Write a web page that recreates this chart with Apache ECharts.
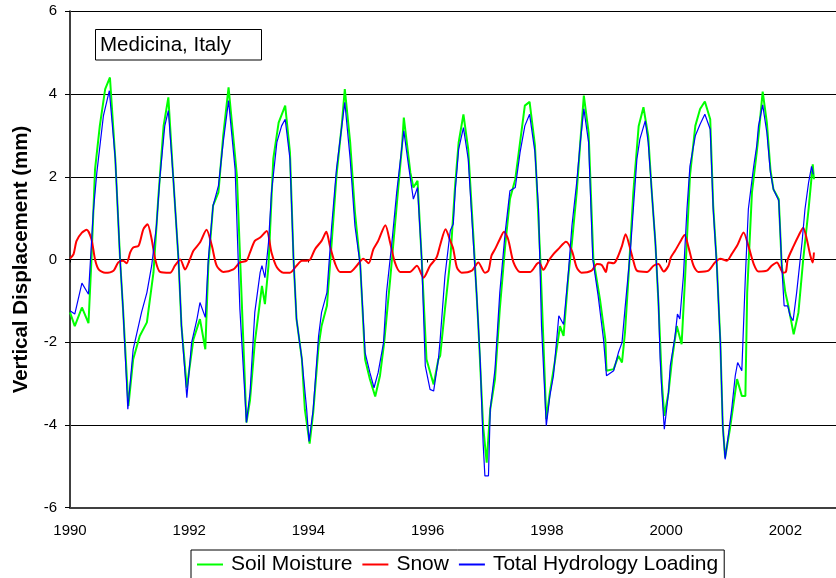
<!DOCTYPE html>
<html>
<head>
<meta charset="utf-8">
<script src="https://cdn.jsdelivr.net/npm/echarts/dist/echarts.min.js"></script>
<style>
  html, body { margin: 0; padding: 0; background: #fff; }
  #chart { width: 836px; height: 578px; }
</style>
</head>
<body>
<div id="chart"></div>
<script>
// Vertical displacement at Medicina (mm), decimal-year time stamps per series
const soilYears = [
  1990.00,1990.08,1990.20,1990.31,1990.36,1990.42,1990.50,1990.59,1990.67,1990.76,1990.84,1990.89,1990.98,
  1991.06,1991.17,1991.29,1991.40,1991.48,1991.57,1991.65,1991.73,1991.82,1991.87,1991.96,
  1992.07,1992.18,1992.27,1992.32,1992.40,1992.49,1992.57,1992.66,1992.80,1992.88,1992.96,
  1993.02,1993.10,1993.22,1993.27,1993.33,1993.41,1993.50,1993.61,1993.69,1993.75,1993.80,1993.89,1993.94,
  1994.02,1994.08,1994.17,1994.22,1994.31,1994.39,1994.47,1994.56,1994.61,1994.70,1994.78,1994.87,1994.95,
  1995.03,1995.12,1995.20,1995.27,1995.37,1995.48,1995.57,1995.60,1995.71,1995.76,1995.83,1995.90,1995.98,
  1996.10,1996.18,1996.21,1996.29,1996.38,1996.46,1996.52,1996.60,1996.68,1996.77,1996.85,1996.93,1996.99,
  1997.05,1997.13,1997.21,1997.30,1997.38,1997.47,1997.55,1997.63,1997.71,1997.80,1997.89,1997.99,
  1998.05,1998.14,1998.22,1998.28,1998.36,1998.42,1998.50,1998.56,1998.62,1998.70,1998.78,1998.89,1998.98,
  1999.00,1999.12,1999.20,1999.26,1999.31,1999.37,1999.45,1999.54,1999.62,1999.70,1999.76,1999.82,1999.87,1999.93,1999.97,
  2000.04,2000.10,2000.18,2000.26,2000.32,2000.40,2000.49,2000.57,2000.65,2000.74,2000.79,2000.85,2000.91,2000.95,2000.99,
  2001.07,2001.19,2001.27,2001.33,2001.36,2001.44,2001.52,2001.55,2001.62,2001.69,2001.75,2001.80,2001.89,2001.94,
  2002.00,2002.05,2002.14,2002.22,2002.30,2002.39,2002.46,2002.48
];
const soilValues = [
  -1.28,-1.61,-1.16,-1.54,0.00,2.18,3.23,4.12,4.40,2.43,0.00,-1.20,-3.54,
  -2.41,-1.85,-1.52,-0.32,1.46,3.23,3.92,2.02,0.00,-1.61,-3.10,
  -1.93,-1.44,-2.17,-0.16,1.30,1.62,2.99,4.16,2.02,-0.96,-3.94,
  -3.40,-2.01,-0.64,-1.08,-0.15,2.43,3.31,3.72,2.59,0.00,-1.44,-2.41,-3.62,
  -4.45,-3.70,-2.09,-1.61,-1.12,0.41,2.02,3.27,4.12,2.83,1.14,-0.15,-2.41,
  -2.89,-3.31,-2.81,-2.01,-0.50,1.30,2.75,3.43,2.10,1.74,1.90,0.00,-2.41,
  -3.02,-2.41,-2.33,-1.20,0.00,1.78,2.83,3.51,2.67,0.49,-1.60,-4.02,-4.91,
  -3.62,-2.89,-1.20,0.33,1.46,1.94,2.83,3.72,3.81,2.75,0.00,-3.86,
  -3.22,-2.41,-1.61,-1.85,-0.40,0.41,1.62,2.83,3.96,3.07,0.00,-0.96,-1.93,
  -2.69,-2.65,-2.33,-2.49,-1.77,-0.40,1.62,3.23,3.68,2.99,1.62,0.41,-1.00,-3.00,-3.78,
  -3.22,-2.41,-1.61,-2.05,-0.40,2.02,3.23,3.64,3.82,3.39,1.30,-0.10,-2.00,-4.00,-4.79,
  -4.10,-2.89,-3.30,-3.30,-0.80,1.62,2.59,2.99,4.06,3.31,2.18,1.70,1.46,-0.15,
  -0.80,-1.12,-1.81,-1.28,0.00,1.22,2.30,1.94
];

const snowYears = [
  1990.00,1990.06,1990.11,1990.20,1990.28,1990.36,1990.42,1990.48,1990.59,1990.73,1990.81,1990.89,1990.95,
  1991.01,1991.06,1991.15,1991.23,1991.30,1991.37,1991.43,1991.51,1991.68,1991.76,1991.85,1991.93,
  1992.01,1992.07,1992.18,1992.29,1992.38,1992.46,1992.57,1992.74,1992.85,1992.96,
  1993.02,1993.10,1993.19,1993.30,1993.38,1993.47,1993.58,1993.69,1993.80,1993.89,1993.97,
  1994.03,1994.11,1994.22,1994.30,1994.36,1994.45,1994.53,1994.70,1994.81,1994.92,
  1995.01,1995.09,1995.17,1995.29,1995.37,1995.45,1995.54,1995.70,1995.82,1995.93,
  1996.04,1996.15,1996.21,1996.30,1996.38,1996.43,1996.49,1996.57,1996.74,1996.85,1996.96,
  1997.02,1997.07,1997.13,1997.21,1997.28,1997.35,1997.44,1997.55,1997.72,1997.83,1997.87,1997.94,
  1998.03,1998.11,1998.19,1998.32,1998.42,1998.50,1998.58,1998.75,1998.84,1998.92,1998.99,
  1999.03,1999.12,1999.17,1999.26,1999.32,1999.40,1999.45,1999.51,1999.68,1999.79,1999.87,1999.96,
  2000.04,2000.08,2000.15,2000.23,2000.31,2000.37,2000.46,2000.54,2000.71,2000.82,2000.91,
  2001.02,2001.10,2001.19,2001.30,2001.38,2001.47,2001.55,2001.69,2001.77,2001.86,2001.91,2001.96,
  2002.01,2002.04,2002.14,2002.22,2002.30,2002.36,2002.42,2002.46,2002.48
];
const snowValues = [
  0.02,0.13,0.45,0.65,0.72,0.49,0.00,-0.24,-0.32,-0.27,-0.07,-0.03,-0.09,
  0.17,0.29,0.33,0.73,0.85,0.49,0.00,-0.30,-0.32,-0.15,0.00,-0.24,
  0.00,0.21,0.41,0.72,0.33,-0.15,-0.30,-0.24,-0.07,-0.03,
  0.17,0.45,0.53,0.69,0.17,-0.19,-0.32,-0.32,-0.15,-0.03,-0.03,
  0.00,0.25,0.45,0.67,0.33,-0.11,-0.30,-0.30,-0.15,0.02,
  -0.09,0.25,0.45,0.83,0.41,-0.07,-0.30,-0.30,-0.15,-0.44,
  -0.15,0.05,0.35,0.73,0.45,0.25,-0.19,-0.32,-0.27,-0.07,-0.32,
  -0.27,0.09,0.25,0.49,0.67,0.49,-0.07,-0.30,-0.30,-0.11,-0.07,-0.25,
  -0.03,0.13,0.25,0.43,0.21,-0.19,-0.32,-0.27,-0.11,-0.13,-0.30,
  -0.07,-0.09,0.00,0.33,0.61,0.25,-0.03,-0.27,-0.30,-0.15,-0.11,-0.29,
  -0.15,0.05,0.21,0.41,0.59,0.33,-0.15,-0.30,-0.27,-0.07,0.02,
  -0.03,0.13,0.33,0.65,0.33,-0.11,-0.29,-0.27,-0.15,-0.07,-0.19,-0.32,
  -0.30,0.00,0.33,0.57,0.77,0.49,0.09,-0.07,0.17
];

const totalYears = [
  1990.00,1990.08,1990.20,1990.31,1990.39,1990.45,1990.56,1990.66,1990.76,1990.84,1990.89,1990.97,
  1991.06,1991.20,1991.29,1991.37,1991.45,1991.51,1991.59,1991.65,1991.73,1991.82,1991.87,1991.96,
  1992.04,1992.13,1992.18,1992.27,1992.32,1992.40,1992.49,1992.57,1992.66,1992.77,1992.85,1992.96,
  1993.02,1993.10,1993.19,1993.22,1993.27,1993.33,1993.38,1993.47,1993.55,1993.61,1993.69,1993.75,1993.80,1993.89,1993.97,
  1994.01,1994.08,1994.17,1994.22,1994.31,1994.39,1994.47,1994.56,1994.61,1994.70,1994.78,1994.87,1994.95,
  1995.03,1995.10,1995.17,1995.26,1995.31,1995.40,1995.48,1995.57,1995.60,1995.68,1995.76,1995.83,1995.90,1995.96,
  1996.04,1996.10,1996.18,1996.21,1996.29,1996.38,1996.43,1996.46,1996.52,1996.60,1996.68,1996.77,1996.82,1996.88,1996.93,1996.96,
  1997.02,1997.05,1997.13,1997.21,1997.30,1997.38,1997.47,1997.55,1997.63,1997.71,1997.80,1997.86,1997.91,1997.99,
  1998.05,1998.11,1998.17,1998.20,1998.28,1998.36,1998.42,1998.50,1998.56,1998.62,1998.70,1998.77,1998.86,1998.95,
  1999.00,1999.12,1999.20,1999.26,1999.31,1999.40,1999.45,1999.51,1999.56,1999.65,1999.70,1999.76,1999.82,1999.87,1999.90,1999.93,1999.97,
  2000.04,2000.07,2000.15,2000.19,2000.23,2000.29,2000.35,2000.40,2000.49,2000.57,2000.65,2000.74,2000.79,2000.85,2000.91,2000.95,2000.99,
  2001.05,2001.10,2001.16,2001.20,2001.27,2001.33,2001.38,2001.47,2001.52,2001.55,2001.62,2001.69,2001.75,2001.80,2001.89,2001.94,2001.98,
  2002.04,2002.08,2002.13,2002.19,2002.28,2002.33,2002.39,2002.44,2002.47
];
const totalValues = [
  -1.24,-1.32,-0.57,-0.84,1.14,2.10,3.47,4.08,2.43,0.00,-1.20,-3.62,
  -2.17,-1.28,-0.80,-0.15,0.81,2.02,3.23,3.60,2.02,0.00,-1.61,-3.34,
  -2.01,-1.44,-1.04,-1.40,0.00,1.30,1.78,2.83,3.84,2.18,-1.20,-3.94,
  -3.22,-1.28,-0.31,-0.15,-0.44,0.41,1.62,2.83,3.23,3.39,2.43,0.00,-1.44,-2.41,-3.62,
  -4.40,-3.62,-1.85,-1.28,-0.80,0.81,2.18,3.23,3.80,2.43,0.81,-0.15,-2.25,
  -2.73,-3.10,-2.73,-2.01,-0.80,0.41,1.62,2.75,3.11,2.26,1.46,1.74,0.00,-2.57,
  -3.14,-3.18,-2.41,-1.93,-0.40,0.70,0.86,1.62,2.67,3.19,2.43,0.33,-0.80,-2.41,-4.43,-5.23,
  -5.23,-3.62,-2.65,-0.80,0.65,1.66,1.74,2.59,3.23,3.51,2.59,1.22,-1.61,-4.02,
  -3.30,-2.81,-1.85,-1.36,-1.57,-0.32,0.81,1.86,2.83,3.64,2.83,0.00,-0.88,-1.93,
  -2.81,-2.69,-2.25,-2.01,-1.20,0.20,1.22,2.43,2.91,3.35,2.83,1.62,0.41,-0.96,-2.41,-3.22,-4.10,
  -3.22,-2.57,-1.85,-1.32,-1.44,-0.40,1.22,2.26,2.99,3.27,3.51,3.15,1.22,-0.15,-2.01,-4.02,-4.83,
  -4.18,-3.62,-2.81,-2.49,-2.69,-0.40,1.22,2.26,2.75,3.23,3.74,3.07,2.10,1.70,1.42,-0.15,-1.12,
  -1.12,-1.36,-1.48,-0.80,0.41,1.22,1.86,2.25,2.06
];

const seriesNames = ['Soil Moisture', 'Snow', 'Total Hydrology Loading'];
const seriesColors = ['#00ff00', '#ff0000', '#0000ff'];
const yearTicks = [1990, 1992, 1994, 1996, 1998, 2000, 2002];
const chartTitle = 'Medicina, Italy';
const yAxisTitle = 'Vertical Displacement (mm)';

const FONT = "'Liberation Sans', Arial, sans-serif";
// the plotted span runs past the last labelled year up to the right edge
const X_MIN = 1990;
const X_MAX = 2002.85;

function pairs(xs, ys) {
  return xs.map((x, i) => [x, ys[i]]);
}

const chart = echarts.init(document.getElementById('chart'), null, { renderer: 'canvas' });

chart.setOption({
  animation: false,
  backgroundColor: '#ffffff',
  textStyle: { fontFamily: FONT },
  grid: { left: 70, top: 11.3, bottom: 70.3, right: 0, containLabel: false },
  xAxis: [
    {
      type: 'value', min: X_MIN, max: X_MAX, position: 'bottom',
      axisLine: { onZero: false, lineStyle: { color: '#404040', width: 2 } },
      axisTick: { show: false },
      splitLine: { show: false },
      axisLabel: {
        fontSize: 15, color: '#000', margin: 16, fontFamily: FONT,
        customValues: yearTicks,
        formatter: v => String(Math.round(v))
      }
    },
    {
      // small year marks sitting on the zero line
      type: 'value', min: X_MIN, max: X_MAX,
      axisLine: { show: false, onZero: true },
      axisTick: { show: true, inside: true, length: 3, customValues: yearTicks,
                  lineStyle: { color: '#000', width: 1 } },
      axisLabel: { show: false },
      splitLine: { show: false }
    }
  ],
  yAxis: {
    type: 'value', min: -6, max: 6, interval: 2,
    axisLine: { show: true, onZero: false, lineStyle: { color: '#404040', width: 2 } },
    axisTick: { show: true, length: 5, lineStyle: { color: '#000', width: 1 } },
    splitLine: { show: true, lineStyle: { color: '#000', width: 1 } },
    axisLabel: { fontSize: 15, color: '#000', margin: 13, fontFamily: FONT },
    name: yAxisTitle,
    nameLocation: 'middle',
    nameGap: 38,
    nameTextStyle: { fontSize: 20.5, fontWeight: 'bold', color: '#000', fontFamily: FONT }
  },
  legend: {
    data: seriesNames,
    left: 191, top: 550,
    orient: 'horizontal',
    icon: 'rect', itemWidth: 26, itemHeight: 2, itemGap: 10,
    borderColor: '#000', borderWidth: 1,
    padding: [4, 6, 10, 6],
    textStyle: { fontSize: 21, color: '#000', fontFamily: FONT, padding: [0, 0, 0, 3] }
  },
  graphic: [
    {
      type: 'rect', z: 10,
      shape: { x: 95.5, y: 29.5, width: 166, height: 30.5 },
      style: { fill: '#fff', stroke: '#000', lineWidth: 1 }
    },
    {
      type: 'text', z: 11,
      style: {
        x: 100, y: 45, text: chartTitle,
        font: "20.5px 'Liberation Sans', Arial, sans-serif",
        fill: '#000', verticalAlign: 'middle', align: 'left'
      }
    }
  ],
  series: [
    {
      name: seriesNames[0], type: 'line', xAxisIndex: 0,
      data: pairs(soilYears, soilValues),
      symbol: 'none', showSymbol: false,
      lineStyle: { color: seriesColors[0], width: 2 },
      itemStyle: { color: seriesColors[0] }
    },
    {
      name: seriesNames[1], type: 'line', xAxisIndex: 0,
      data: pairs(snowYears, snowValues),
      symbol: 'none', showSymbol: false, smooth: 0.25,
      lineStyle: { color: seriesColors[1], width: 2 },
      itemStyle: { color: seriesColors[1] }
    },
    {
      name: seriesNames[2], type: 'line', xAxisIndex: 0,
      data: pairs(totalYears, totalValues),
      symbol: 'none', showSymbol: false,
      lineStyle: { color: seriesColors[2], width: 1.2 },
      itemStyle: { color: seriesColors[2] }
    }
  ]
});
</script>
</body>
</html>
